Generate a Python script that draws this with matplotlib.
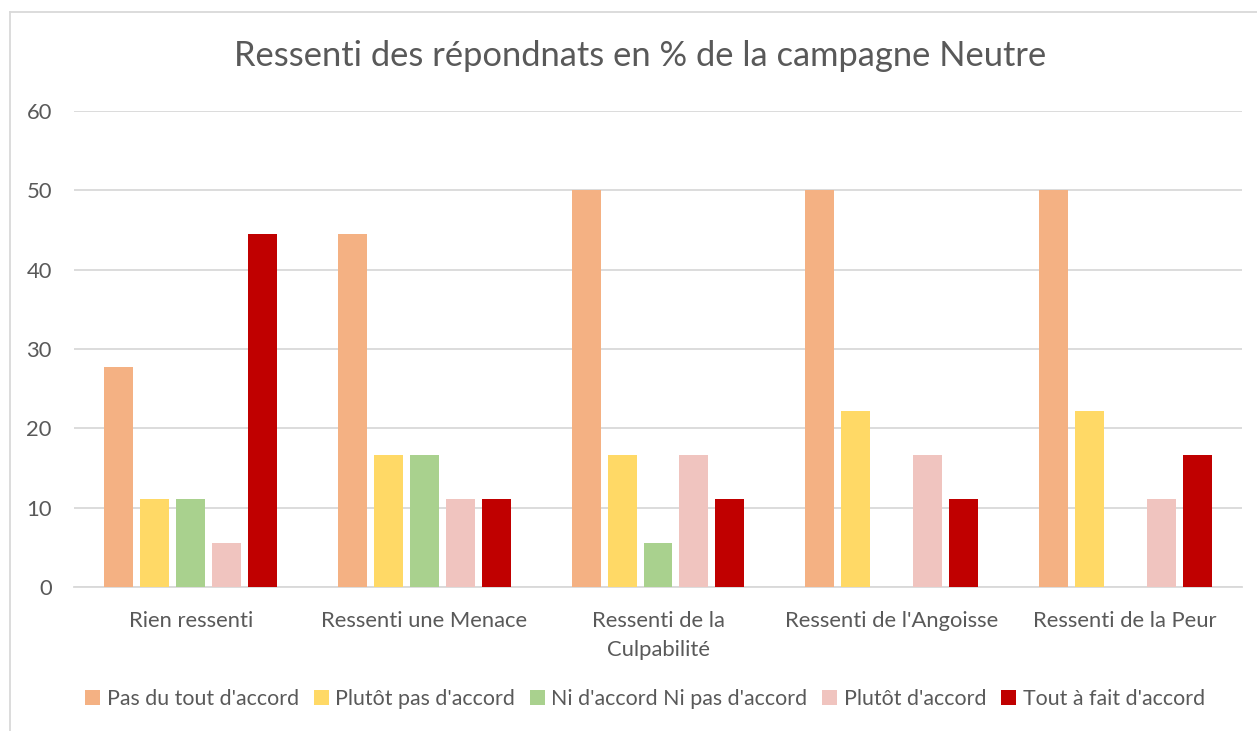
import numpy as np
import matplotlib.pyplot as plt
from matplotlib.lines import Line2D

categories = ["Rien ressenti", "Ressenti une Menace", "Ressenti de la\nCulpabilité",
              "Ressenti de l'Angoisse", "Ressenti de la Peur"]
series = ["Pas du tout d'accord", "Plutôt pas d'accord", "Ni d'accord Ni pas d'accord",
          "Plutôt d'accord", "Tout à fait d'accord"]
pas_du_tout = [27.78, 44.44, 50.0, 50.0, 50.0]
plutot_pas = [11.11, 16.67, 16.67, 22.22, 22.22]
ni_ni = [11.11, 16.67, 5.56, 0, 0]
plutot = [5.56, 11.11, 16.67, 16.67, 11.11]
tout_a_fait = [44.44, 11.11, 11.11, 11.11, 16.67]
colors = ["#F4B183", "#FFD966", "#A9D18E", "#F0C4BF", "#C00000"]

values = [pas_du_tout, plutot_pas, ni_ni, plutot, tout_a_fait]

plt.rcParams['font.family'] = ['Lato', 'DejaVu Sans']
txt = "#595959"

fig = plt.figure(figsize=(12.57, 7.31), dpi=100)
ax = fig.add_axes([74 / 1257, 1 - 587 / 731, (1242 - 74) / 1257, (587 - 111) / 731])

x = np.arange(len(categories))
slot = 0.154
width = 0.124
for i, (name, vals, c) in enumerate(zip(series, values, colors)):
    ax.bar(x + (i - 2) * slot, vals, width, color=c, label=name, zorder=3)

ax.set_xlim(-0.5, len(categories) - 0.5)
ax.set_ylim(0, 60)
ax.set_yticks(range(0, 61, 10))
ax.grid(axis='y', color='#D9D9D9', linewidth=1.3, zorder=0)
for s in ['top', 'right', 'left']:
    ax.spines[s].set_visible(False)
ax.spines['bottom'].set_color('#D9D9D9')
ax.spines['bottom'].set_linewidth(1.3)
ax.tick_params(axis='both', length=0, labelsize=15.8, colors=txt)
ax.tick_params(axis='y', pad=16)
ax.tick_params(axis='x', pad=17)
ax.set_xticks(x)
ax.set_xticklabels(categories, linespacing=1.6)

fig.text(640 / 1257, 1 - 56 / 731, "Ressenti des répondnats en % de la campagne Neutre",
         ha='center', va='center', fontsize=24.8, color=txt)

fig.legend(loc='center', bbox_to_anchor=(645 / 1257, 1 - 699 / 731), ncol=5, frameon=False,
           fontsize=15.4, labelcolor=txt, handlelength=0.7, handleheight=0.7,
           handletextpad=0.3, columnspacing=0.7)

fig.add_artist(Line2D([10 / 1257, 10 / 1257], [0, 1 - 12 / 731], color='#D9D9D9', lw=1.3,
                      transform=fig.transFigure))
fig.add_artist(Line2D([10 / 1257, 1], [1 - 12 / 731, 1 - 12 / 731], color='#D9D9D9', lw=1.3,
                      transform=fig.transFigure))

fig.savefig("out.png", dpi=100)
